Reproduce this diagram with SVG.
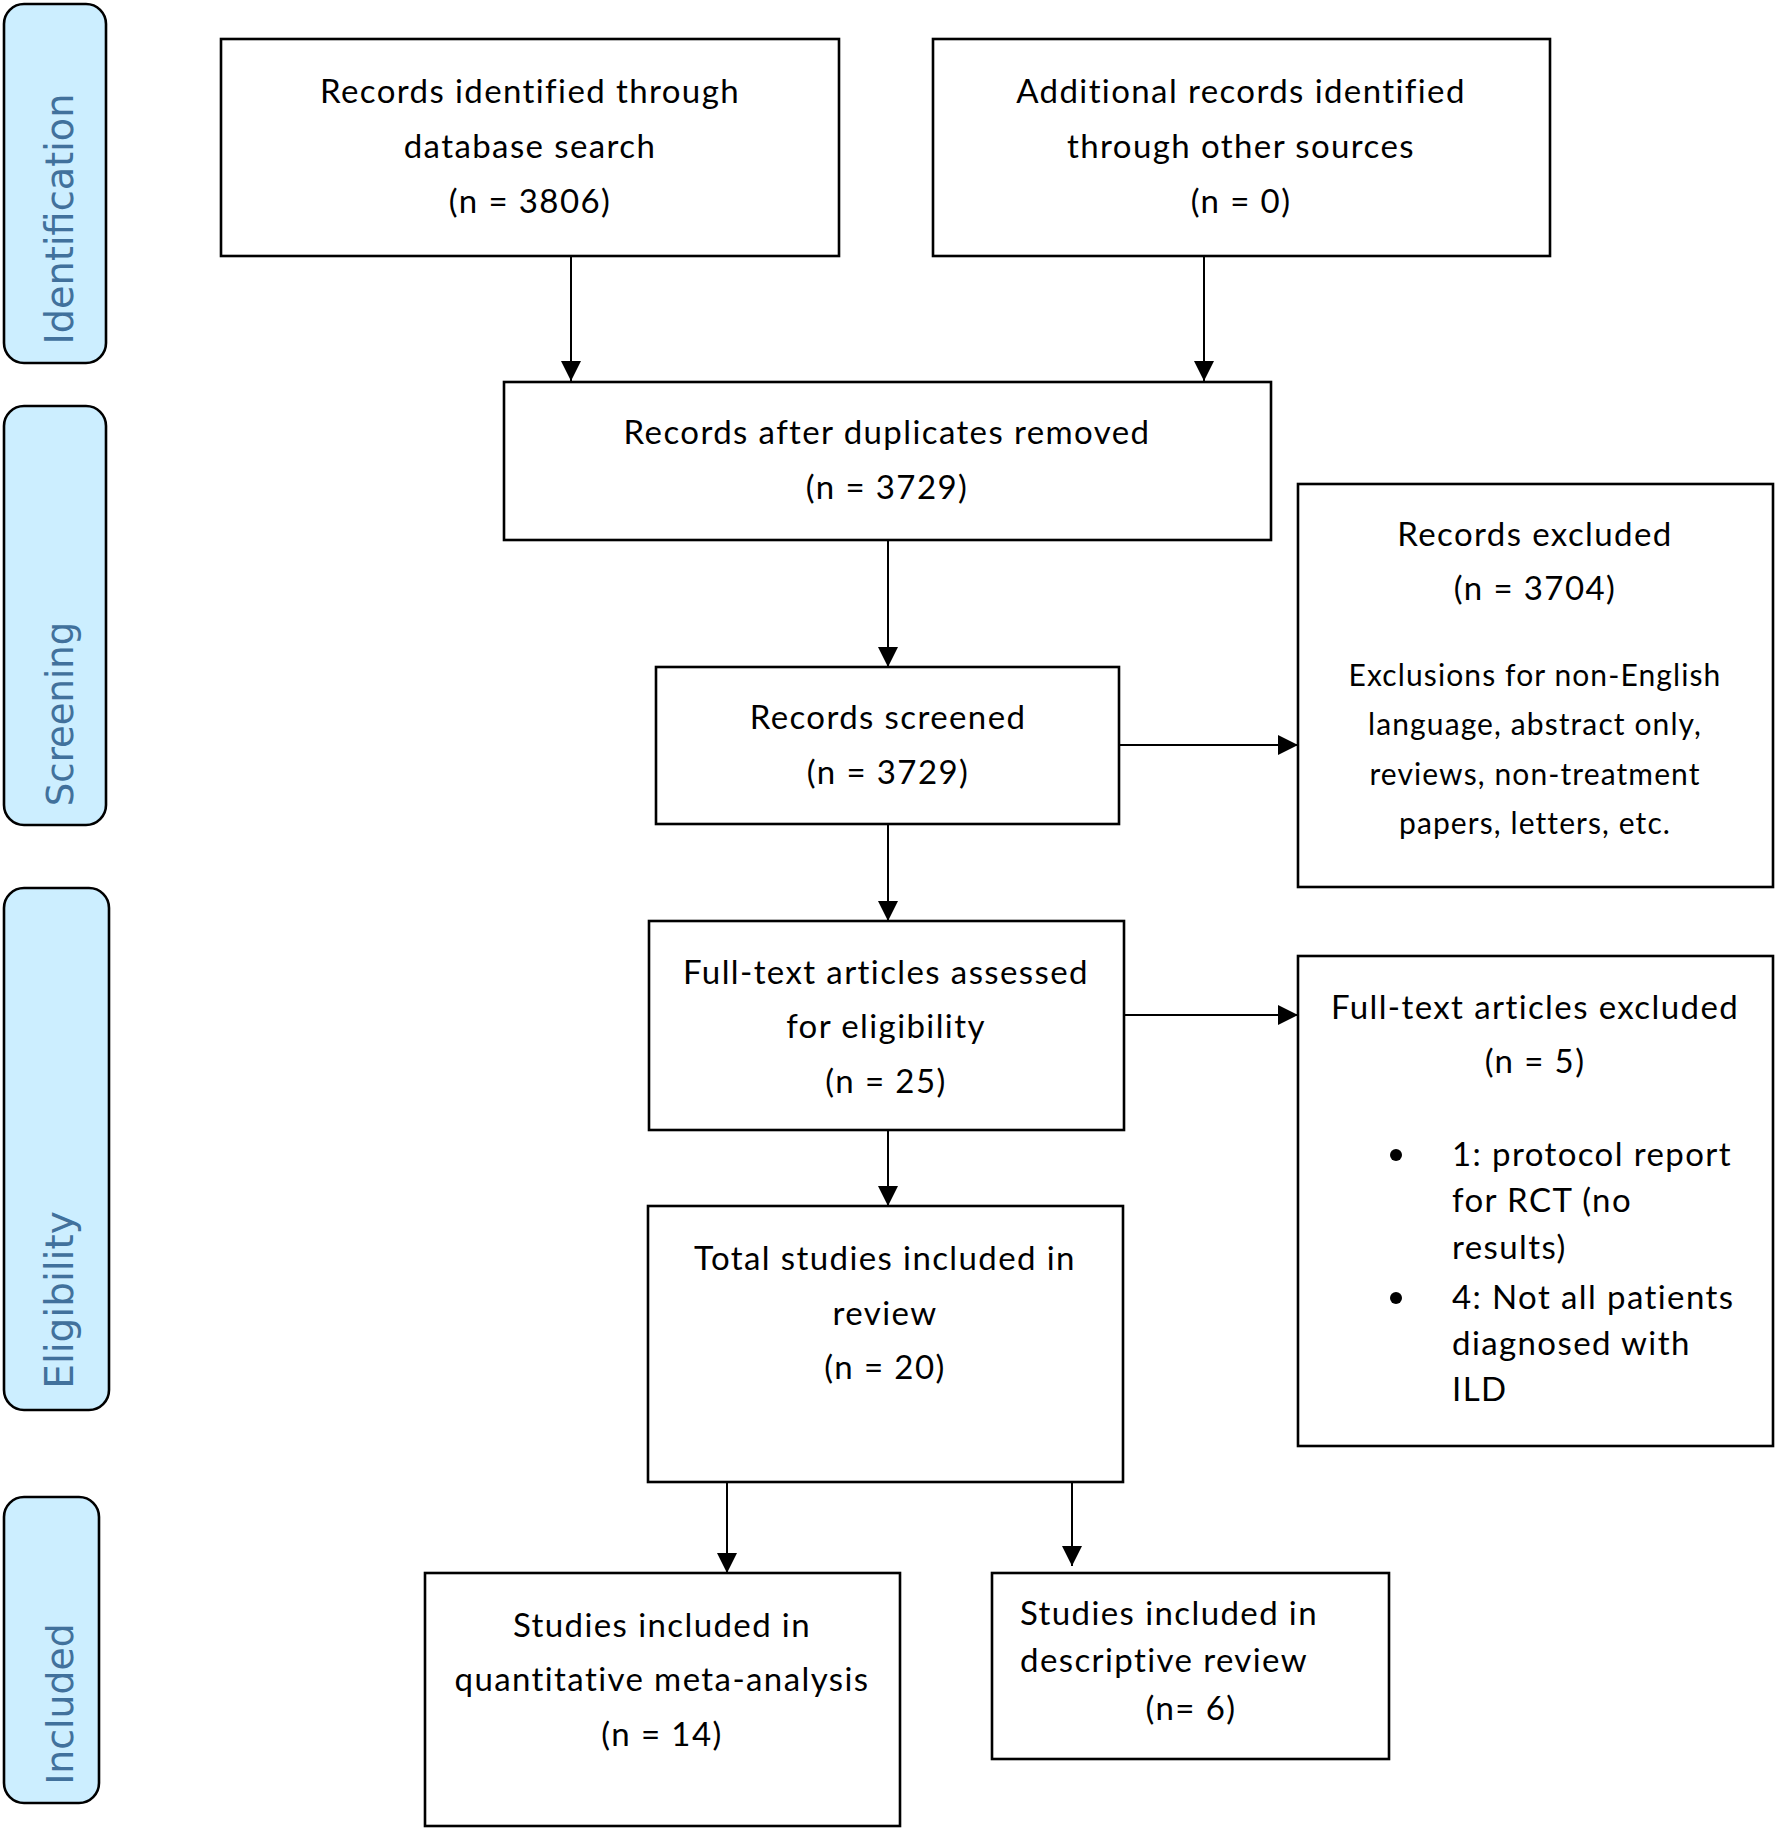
<svg xmlns="http://www.w3.org/2000/svg" width="1776" height="1828" viewBox="0 0 1776 1828">
<style>
.bg{fill:#ffffff}
.box{fill:#ffffff;stroke:#000000;stroke-width:2.6}
.side{fill:#cceeff;stroke:#000000;stroke-width:2.6}
.st{font-family:"DejaVu Sans",Verdana,sans-serif;font-size:37px;fill:#41719c;text-anchor:middle}
.t{font-family:Lato,"Open Sans",sans-serif;font-size:33px;letter-spacing:1.4px;fill:#000000;text-anchor:middle}
.ts{font-family:Lato,"Open Sans",sans-serif;font-size:30px;letter-spacing:1.1px;fill:#000000;text-anchor:middle}
.tl{font-family:Lato,"Open Sans",sans-serif;font-size:33px;letter-spacing:1.4px;fill:#000000;text-anchor:start}
.conn{stroke:#000000;stroke-width:2;fill:none;marker-end:url(#arr)}
</style>
<defs>
<marker id="arr" markerUnits="userSpaceOnUse" markerWidth="20" markerHeight="20" refX="20" refY="10" orient="auto" viewBox="0 0 20 20">
<path d="M0,0 L20,10 L0,20 z" fill="#000000"/>
</marker>
</defs>
<rect class="bg" x="0" y="0" width="1776" height="1828"/>

<g id="stage-identification">
<rect class="side" x="4" y="4" width="102" height="359" rx="20" ry="20"/>
<text class="st" style="font-size:38.3px" transform="translate(73,219) rotate(-90)">Identification</text>
</g>
<g id="stage-screening">
<rect class="side" x="4" y="406" width="102" height="419" rx="20" ry="20"/>
<text class="st" transform="translate(73,714) rotate(-90)">Screening</text>
</g>
<g id="stage-eligibility">
<rect class="side" x="4" y="888" width="105" height="522" rx="20" ry="20"/>
<text class="st" style="font-size:39px" transform="translate(73,1300) rotate(-90)">Eligibility</text>
</g>
<g id="stage-included">
<rect class="side" x="4" y="1497" width="95" height="306" rx="20" ry="20"/>
<text class="st" style="font-size:37.8px" transform="translate(73,1704) rotate(-90)">Included</text>
</g>

<g id="connectors">
<line class="conn" x1="571" y1="256" x2="571" y2="381"/>
<line class="conn" x1="1204" y1="257" x2="1204" y2="381"/>
<line class="conn" x1="888" y1="540" x2="888" y2="667"/>
<line class="conn" x1="1119" y1="745" x2="1298" y2="745"/>
<line class="conn" x1="888" y1="824" x2="888" y2="921"/>
<line class="conn" x1="1124" y1="1015" x2="1298" y2="1015"/>
<line class="conn" x1="888" y1="1130" x2="888" y2="1206"/>
<line class="conn" x1="727" y1="1482" x2="727" y2="1573"/>
<line class="conn" x1="1072" y1="1482" x2="1072" y2="1566"/>
</g>

<g id="n-db">
<rect class="box" x="221" y="39" width="618" height="217"/>
<text class="t" x="530" y="103">Records identified through</text>
<text class="t" x="530" y="158">database search</text>
<text class="t" x="530" y="213">(n = 3806)</text>
</g>
<g id="n-other">
<rect class="box" x="933" y="39" width="617" height="217"/>
<text class="t" x="1241" y="103">Additional records identified</text>
<text class="t" x="1241" y="158">through other sources</text>
<text class="t" x="1241" y="213">(n = 0)</text>
</g>
<g id="n-dedup">
<rect class="box" x="504" y="382" width="767" height="158"/>
<text class="t" x="887" y="444">Records after duplicates removed</text>
<text class="t" x="887" y="499">(n = 3729)</text>
</g>
<g id="n-screened">
<rect class="box" x="656" y="667" width="463" height="157"/>
<text class="t" x="888" y="729">Records screened</text>
<text class="t" x="888" y="784">(n = 3729)</text>
</g>
<g id="n-excluded">
<rect class="box" x="1298" y="484" width="475" height="403"/>
<text class="t" x="1535" y="546">Records excluded</text>
<text class="t" x="1535" y="600">(n = 3704)</text>
<text class="ts" x="1535" y="686">Exclusions for non-English</text>
<text class="ts" x="1535" y="735">language, abstract only,</text>
<text class="ts" x="1535" y="785">reviews, non-treatment</text>
<text class="ts" x="1535" y="834">papers, letters, etc.</text>
</g>
<g id="n-fulltext">
<rect class="box" x="649" y="921" width="475" height="209"/>
<text class="t" x="886" y="984">Full-text articles assessed</text>
<text class="t" x="886" y="1038">for eligibility</text>
<text class="t" x="886" y="1093">(n = 25)</text>
</g>
<g id="n-ft-excluded">
<rect class="box" x="1298" y="956" width="475" height="490"/>
<text class="t" x="1535" y="1019">Full-text articles excluded</text>
<text class="t" x="1535" y="1073">(n = 5)</text>
<circle cx="1396" cy="1155" r="6" fill="#000000"/>
<text class="tl" x="1452" y="1166">1: protocol report</text>
<text class="tl" x="1452" y="1212">for RCT (no</text>
<text class="tl" x="1452" y="1259">results)</text>
<circle cx="1396" cy="1298" r="6" fill="#000000"/>
<text class="tl" x="1452" y="1309">4: Not all patients</text>
<text class="tl" x="1452" y="1355">diagnosed with</text>
<text class="tl" x="1452" y="1401">ILD</text>
</g>
<g id="n-total">
<rect class="box" x="648" y="1206" width="475" height="276"/>
<text class="t" x="885" y="1270">Total studies included in</text>
<text class="t" x="885" y="1325">review</text>
<text class="t" x="885" y="1379">(n = 20)</text>
</g>
<g id="n-quant">
<rect class="box" x="425" y="1573" width="475" height="253"/>
<text class="t" x="662" y="1637">Studies included in</text>
<text class="t" x="662" y="1691">quantitative meta-analysis</text>
<text class="t" x="662" y="1746">(n = 14)</text>
</g>
<g id="n-desc">
<rect class="box" x="992" y="1573" width="397" height="186"/>
<text class="tl" x="1020" y="1625">Studies included in</text>
<text class="tl" x="1020" y="1672">descriptive review</text>
<text class="t" x="1191" y="1720">(n= 6)</text>
</g>
</svg>
